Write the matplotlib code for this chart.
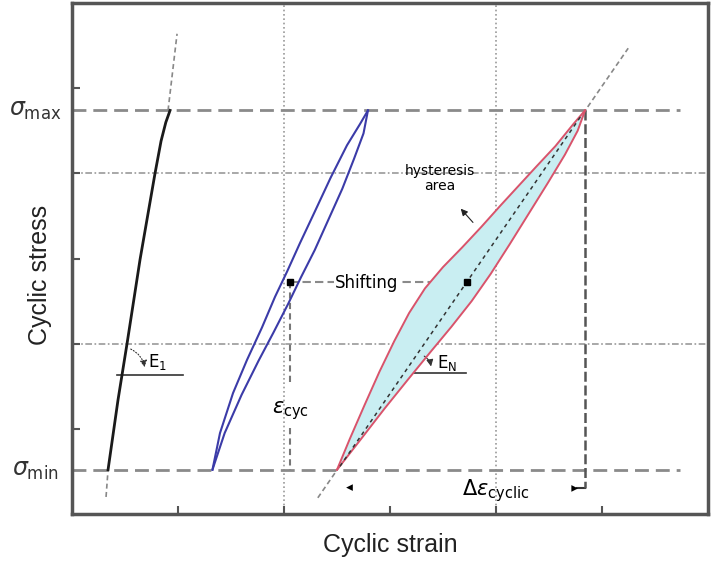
import matplotlib
matplotlib.use("agg")
import matplotlib.pyplot as plt
import numpy as np

# levels of the stress range
sigma_min = 0.52
sigma_max = 4.74

# first cycle (black)
black_x = [0.340, 0.434, 0.519, 0.642, 0.783, 0.840, 0.885, 0.925]
black_y = [0.52, 1.34, 2.00, 2.99, 4.00, 4.38, 4.60, 4.74]

# shifted loop (blue)
blue_up_x = [1.325, 1.396, 1.519, 1.651, 1.792, 1.915, 2.030, 2.150, 2.290, 2.440, 2.594, 2.717, 2.792]
blue_up_y = [0.52, 0.95, 1.42, 1.81, 2.19, 2.55, 2.85, 3.18, 3.55, 3.95, 4.33, 4.58, 4.74]
blue_dn_x = [1.325, 1.440, 1.600, 1.760, 1.900, 2.040, 2.160, 2.290, 2.420, 2.550, 2.660, 2.750, 2.792]
blue_dn_y = [0.52, 0.95, 1.40, 1.80, 2.13, 2.47, 2.78, 3.10, 3.46, 3.82, 4.17, 4.47, 4.74]

# last loop (red, filled)
red_up_x = [2.50, 2.62, 2.76, 2.90, 3.04, 3.18, 3.33, 3.50, 3.68, 3.86, 4.04, 4.21, 4.38, 4.56, 4.73, 4.84]
red_up_y = [0.52, 0.88, 1.28, 1.67, 2.03, 2.36, 2.65, 2.90, 3.13, 3.37, 3.62, 3.85, 4.08, 4.32, 4.58, 4.74]
red_dn_x = [2.50, 2.72, 2.95, 3.17, 3.38, 3.58, 3.77, 3.95, 4.13, 4.31, 4.49, 4.65, 4.77, 4.84]
red_dn_y = [0.52, 0.87, 1.24, 1.58, 1.90, 2.20, 2.50, 2.82, 3.17, 3.53, 3.89, 4.22, 4.50, 4.74]

# dashed extensions of the elastic lines
black_ext_lo = ([0.321, 0.340], [0.20, 0.52])
black_ext_hi = ([0.906, 0.991], [4.74, 5.64])
red_axis = ([2.319, 5.247], [0.19, 5.47])
red_chord = ([2.528, 4.811], [0.56, 4.69])

# loop centres
blue_mid = (2.057, 2.72)
red_mid = (3.726, 2.72)

ticks = [1, 2, 3, 4, 5]
grid_pos = [2, 4]

fig = plt.figure(figsize=(7.13, 5.67), dpi=100)
ax = fig.add_axes([0.101, 0.0935, 0.892, 0.901])
ax.set_xlim(0, 6)
ax.set_ylim(0, 6)

# grid-like guide lines
for g in grid_pos:
    ax.axhline(g, color="#9a9a9a", lw=1.2, linestyle=(0, (4, 1.5, 1, 1.5)), zorder=1)
    ax.axvline(g, color="#9a9a9a", lw=1.2, linestyle=(0, (1, 1.6)), zorder=1)

# stress limits
for s in [sigma_min, sigma_max]:
    ax.plot([0, 5.74], [s, s], color="#8a8a8a", lw=2, dashes=(5, 2.5), zorder=2)

# extension lines
ax.plot(*black_ext_lo, color="#888888", lw=1.2, dashes=(3, 2), zorder=2)
ax.plot(*black_ext_hi, color="#888888", lw=1.2, dashes=(3, 2), zorder=2)
ax.plot(*red_axis, color="#888888", lw=1.2, dashes=(3, 2), zorder=2)

# first cycle
ax.plot(black_x, black_y, color="#1a1a1a", lw=2, zorder=4)

# blue loop
ax.plot(blue_up_x, blue_up_y, color="#3b3ba8", lw=1.5, zorder=4)
ax.plot(blue_dn_x, blue_dn_y, color="#3b3ba8", lw=1.5, zorder=4)

# red loop with hysteresis area
ax.fill(np.r_[red_up_x, red_dn_x[::-1]], np.r_[red_up_y, red_dn_y[::-1]],
        facecolor="#c9eef2", edgecolor="none", zorder=3)
ax.plot(red_up_x, red_up_y, color="#d9536b", lw=1.4, zorder=4)
ax.plot(red_dn_x, red_dn_y, color="#d9536b", lw=1.4, zorder=4)
ax.plot(*red_chord, color="#333333", lw=1.1, dashes=(2.5, 2.5), zorder=4)

# shifting of mean strain
ax.plot([blue_mid[0], red_mid[0]], [blue_mid[1], red_mid[1]], color="#8a8a8a", lw=1.5, dashes=(4, 2), zorder=2)
ax.plot([blue_mid[0], red_mid[0]], [blue_mid[1], red_mid[1]], "s", color="black", ms=4, zorder=5)
ax.text(2.78, 2.71, "Shifting", fontsize=12, ha="center", va="center",
        bbox=dict(facecolor="white", edgecolor="none", pad=1), zorder=5)
ax.plot([blue_mid[0], blue_mid[0]], [blue_mid[1], 1.54], color="#777777", lw=1.5, dashes=(3, 2), zorder=2)
ax.plot([blue_mid[0], blue_mid[0]], [1.01, sigma_min], color="#777777", lw=1.5, dashes=(3, 2), zorder=2)
ax.text(2.06, 1.22, r"$\varepsilon_{\mathrm{cyc}}$", fontsize=15, ha="center", va="center")

# cyclic strain range
ax.plot([4.84, 4.84], [sigma_max, 0.30], color="#555555", lw=1.8, dashes=(4, 1.5), zorder=3)
ax.annotate("", xy=(2.56, 0.31), xytext=(2.70, 0.31),
            arrowprops=dict(arrowstyle="-|>", color="black", lw=0, mutation_scale=12))
ax.annotate("", xy=(4.80, 0.30), xytext=(4.68, 0.30),
            arrowprops=dict(arrowstyle="-|>", color="black", lw=0, mutation_scale=12))
ax.plot([4.76, 4.84], [0.30, 0.30], color="#333333", lw=1.5)
ax.text(4.0, 0.28, r"$\Delta\varepsilon_{\mathrm{cyclic}}$", fontsize=15, ha="center", va="center")

# moduli
ax.plot([0.425, 1.047], [1.63, 1.63], color="#333333", lw=1.2)
ax.annotate("", xy=(0.69, 1.69), xytext=(0.53, 1.95),
            arrowprops=dict(arrowstyle="-|>", color="#333333", lw=0.8, linestyle=":",
                            connectionstyle="arc3,rad=-0.3", mutation_scale=10))
ax.text(0.81, 1.78, r"$\mathrm{E}_1$", fontsize=12, ha="center", va="center")

ax.plot([3.208, 3.717], [1.65, 1.65], color="#333333", lw=1.2)
ax.annotate("", xy=(3.39, 1.70), xytext=(3.30, 1.87),
            arrowprops=dict(arrowstyle="-|>", color="#333333", lw=0.8,
                            connectionstyle="arc3,rad=-0.3", mutation_scale=10))
ax.text(3.54, 1.77, r"$\mathrm{E}_\mathrm{N}$", fontsize=12, ha="center", va="center")

ax.text(3.47, 3.94, "hysteresis\narea", fontsize=10, ha="center", va="center", linespacing=1.1)
ax.annotate("", xy=(3.65, 3.61), xytext=(3.80, 3.40),
            arrowprops=dict(arrowstyle="-|>", color="#222222", lw=0.8, mutation_scale=10))

# stress labels
ax.text(-0.35, sigma_max, r"$\sigma_{\mathrm{max}}$", fontsize=17, ha="center", va="center", color="#333333")
ax.text(-0.35, sigma_min, r"$\sigma_{\mathrm{min}}$", fontsize=17, ha="center", va="center", color="#333333")

ax.text(-0.05, 0.468, "Cyclic stress", transform=ax.transAxes, rotation=90, fontsize=18,
        family="Liberation Sans", ha="center", va="center", color="#222222")
ax.text(0.5, -0.061, "Cyclic strain", transform=ax.transAxes, fontsize=18,
        family="Liberation Sans", ha="center", va="center", color="#222222")

ax.set_xticks(ticks)
ax.set_yticks(ticks)
ax.set_xticklabels([])
ax.set_yticklabels([])
ax.tick_params(direction="in", length=6, width=1.5, color="#555555")
for sp in ax.spines.values():
    sp.set_color("#555555")
    sp.set_linewidth(2.5)

fig.savefig("out.png", dpi=100, facecolor="white")
